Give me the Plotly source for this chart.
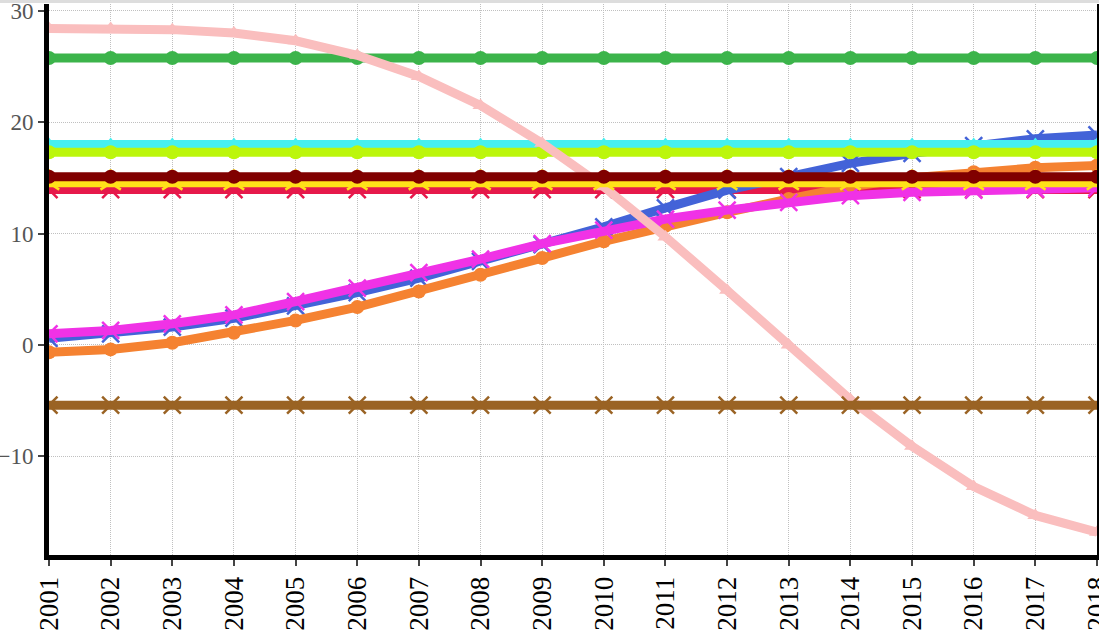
import plotly.graph_objects as go

years = list(range(2001, 2019))

pink = [28.4, 28.4, 28.3, 28.0, 27.3, 26.0, 24.1, 21.5, 18.1, 14.2, 9.7, 4.9, 0.0, -4.9, -9.1, -12.7, -15.3, -16.8]
green = [25.75] * 18
cyan = [18.0] * 18
lime = [17.3] * 18
maroon = [15.1] * 18
yellow = [14.55] * 18
crimson = [13.95] * 18
brown = [-5.4] * 18
blue = [0.6, 1.0, 1.6, 2.4, 3.5, 4.7, 6.0, 7.5, 9.0, 10.6, 12.3, 13.9, 15.1, 16.3, 17.2, 17.9, 18.5, 18.85]
orange = [-0.65, -0.4, 0.2, 1.1, 2.2, 3.4, 4.8, 6.3, 7.8, 9.3, 10.7, 11.9, 13.1, 14.2, 15.0, 15.5, 15.9, 16.1]
magenta = [1.0, 1.3, 1.9, 2.7, 3.9, 5.1, 6.5, 7.7, 9.1, 10.3, 11.3, 12.1, 12.8, 13.4, 13.7, 13.9, 14.0, 14.1]

series = [
    ("crimson", crimson, "#e6194b", "x-thin"),
    ("blue", blue, "#4363d8", "x-thin"),
    ("orange", orange, "#f58231", "circle"),
    ("magenta", magenta, "#f032e6", "x-thin"),
    ("green", green, "#3cb44b", "circle"),
    ("cyan", cyan, "#46f0f0", "triangle-up"),
    ("lime", lime, "#bcf60c", "circle"),
    ("pink", pink, "#fabebe", "triangle-up"),
    ("yellow", yellow, "#ffe119", "y-up"),
    ("maroon", maroon, "#800000", "circle"),
    ("brown", brown, "#9a6324", "x-thin"),
]

FONT = "Times New Roman, Liberation Serif, serif"

fig = go.Figure()
for name, vals, color, sym in series:
    thin = sym in ("x-thin", "y-up")
    fig.add_trace(go.Scatter(
        x=years, y=vals, name=name, mode="lines+markers",
        line=dict(color=color, width=9),
        marker=dict(color=color, symbol=sym, size=17 if thin else 14,
                    line=dict(color=color, width=2.5 if thin else 0)),
        showlegend=False,
    ))

fig.update_layout(
    template="none",
    width=1099, height=636,
    margin=dict(l=49, r=2, t=4, b=81, autoexpand=False),
    paper_bgcolor="white", plot_bgcolor="white",
    font=dict(family=FONT, size=23, color="#555555"),
)
fig.update_xaxes(
    range=[2001, 2018], tickmode="array", tickvals=years,
    ticktext=[str(y) for y in years], tickangle=-90,
    tickfont=dict(color="black", size=27, family=FONT),
    showline=True, linecolor="black", linewidth=5, mirror=False,
    ticks="outside", ticklen=6, tickwidth=2, tickcolor="#444",
    showgrid=True, gridcolor="#c0c0c0", griddash="1px,1px", gridwidth=1,
    zeroline=False, automargin=False, ticklabeloverflow="allow",
)
fig.update_yaxes(
    range=[-18.85, 30.6], tickmode="array", tickvals=[-10, 0, 10, 20, 30],
    ticktext=["\u221210", "0", "10", "20", "30"],
    tickfont=dict(color="#555555", size=23, family=FONT),
    showline=True, linecolor="black", linewidth=5, mirror=True,
    ticks="outside", ticklen=6, tickwidth=2, tickcolor="#444",
    showgrid=True, gridcolor="#c0c0c0", griddash="1px,1px", gridwidth=1,
    zeroline=False, automargin=False, ticklabeloverflow="allow",
)
fig.add_shape(type="rect", xref="paper", yref="paper", x0=-0.1, x1=1.1,
              y0=1.0 + 1.0 / 551, y1=1.0 + 6.0 / 551, fillcolor="#dddddd",
              line=dict(width=0), layer="above")

fig.write_html("out.html", config={"displayModeBar": False},
               post_script="document.body.style.margin='0';document.body.style.overflow='hidden';")
